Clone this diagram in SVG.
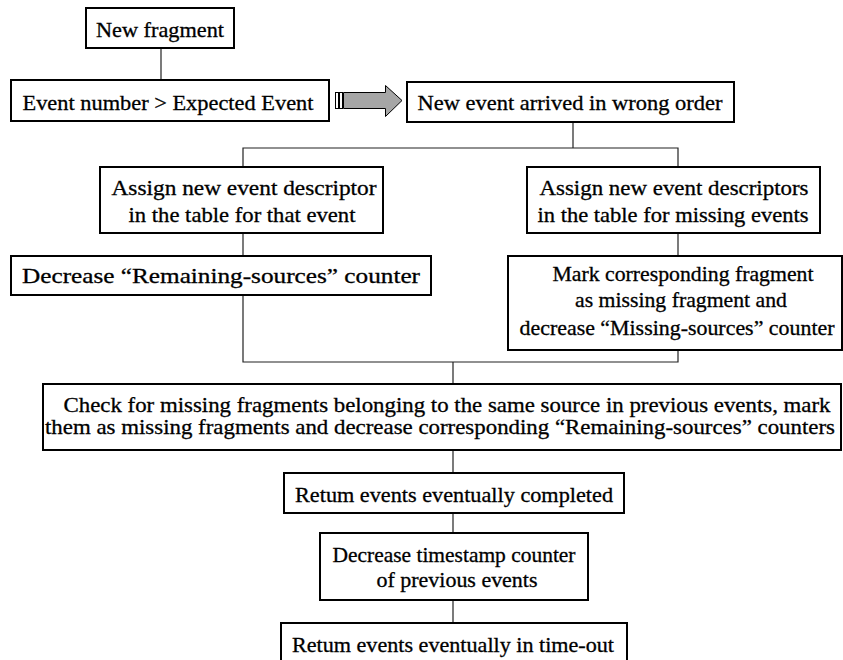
<svg xmlns="http://www.w3.org/2000/svg" width="843" height="660" viewBox="0 0 843 660">
  <style>
    .box { fill: #ffffff; stroke: #000000; stroke-width: 2; }
    .link { fill: none; stroke: #222222; stroke-width: 1.2; }
    .lbl { font-size: 21px; fill: #000000; stroke: #000000; stroke-width: 0.3; text-anchor: middle; }
  </style>

  <rect width="843" height="660" fill="#ffffff"/>

  <!-- connectors -->
  <g id="connectors">
    <line class="link" x1="161" y1="48" x2="161" y2="80"/>
    <line class="link" x1="573" y1="122" x2="573" y2="148"/>
    <polyline class="link" points="243,167 243,148 678,148 678,167"/>
    <line class="link" x1="243" y1="233" x2="243" y2="256"/>
    <line class="link" x1="678" y1="233" x2="678" y2="256"/>
    <polyline class="link" points="243,295 243,362 678,362 678,350"/>
    <line class="link" x1="453" y1="362" x2="453" y2="384"/>
    <line class="link" x1="453" y1="450" x2="453" y2="473"/>
    <line class="link" x1="453" y1="513" x2="453" y2="533"/>
    <line class="link" x1="453" y1="600" x2="453" y2="623"/>
    <!-- block arrow towards the out-of-order branch -->
    <g id="block-arrow" stroke="#000000" stroke-width="1">
      <rect x="335.5" y="92.5" width="3" height="16" fill="#ffffff"/>
      <rect x="339.5" y="92.5" width="3" height="16" fill="#ffffff"/>
      <polygon points="343.5,92.5 385.5,92.5 385.5,85.5 402,100.5 385.5,116.5 385.5,108.5 343.5,108.5" fill="#a6a6a6"/>
    </g>
  </g>

  <g font-family="Liberation Serif, serif">
  <g id="new-fragment">
    <rect class="box" x="86" y="8" width="148" height="40"/>
    <text class="lbl" x="160" y="37" textLength="128" lengthAdjust="spacingAndGlyphs">New fragment</text>
  </g>

  <g id="event-number-check">
    <rect class="box" x="11" y="80" width="318" height="41"/>
    <text class="lbl" x="168" y="110" textLength="291" lengthAdjust="spacingAndGlyphs">Event number &gt; Expected Event</text>
  </g>

  <g id="wrong-order">
    <rect class="box" x="407" y="82" width="327" height="40"/>
    <text class="lbl" x="570" y="110" textLength="305" lengthAdjust="spacingAndGlyphs">New event arrived in wrong order</text>
  </g>

  <g id="assign-descriptor">
    <rect class="box" x="100" y="167" width="283" height="66"/>
    <text class="lbl" x="244" y="195" textLength="265" lengthAdjust="spacingAndGlyphs">Assign new event descriptor</text>
    <text class="lbl" x="242" y="222" textLength="227" lengthAdjust="spacingAndGlyphs">in the table for that event</text>
  </g>

  <g id="assign-missing-descriptors">
    <rect class="box" x="527" y="167" width="293" height="66"/>
    <text class="lbl" x="674" y="195" textLength="269" lengthAdjust="spacingAndGlyphs">Assign new event descriptors</text>
    <text class="lbl" x="673" y="222" textLength="271" lengthAdjust="spacingAndGlyphs">in the table for missing events</text>
  </g>

  <g id="decrease-remaining">
    <rect class="box" x="11" y="256" width="420" height="39"/>
    <text class="lbl" x="221" y="283" textLength="398" lengthAdjust="spacingAndGlyphs">Decrease “Remaining-sources” counter</text>
  </g>

  <g id="mark-missing">
    <rect class="box" x="508" y="256" width="334" height="94"/>
    <text class="lbl" x="683" y="281" textLength="261" lengthAdjust="spacingAndGlyphs">Mark corresponding fragment</text>
    <text class="lbl" x="681" y="307" textLength="212" lengthAdjust="spacingAndGlyphs">as missing fragment and</text>
    <text class="lbl" x="677" y="335" textLength="315" lengthAdjust="spacingAndGlyphs">decrease “Missing-sources” counter</text>
  </g>

  <g id="check-previous">
    <rect class="box" x="43" y="384" width="798" height="66"/>
    <text class="lbl" x="447" y="412" textLength="767" lengthAdjust="spacingAndGlyphs">Check for missing fragments belonging to the same source in previous events, mark</text>
    <text class="lbl" x="440" y="434" textLength="790" lengthAdjust="spacingAndGlyphs">them as missing fragments and decrease corresponding “Remaining-sources” counters</text>
  </g>

  <g id="return-completed">
    <rect class="box" x="284" y="473" width="340" height="40"/>
    <text class="lbl" x="454" y="502" textLength="318" lengthAdjust="spacingAndGlyphs">Retum events eventually completed</text>
  </g>

  <g id="decrease-timestamp">
    <rect class="box" x="320" y="533" width="268" height="67"/>
    <text class="lbl" x="454" y="562" textLength="243" lengthAdjust="spacingAndGlyphs">Decrease timestamp counter</text>
    <text class="lbl" x="457" y="587" textLength="161" lengthAdjust="spacingAndGlyphs">of previous events</text>
  </g>

  <g id="return-timeout">
    <rect class="box" x="281" y="623" width="346" height="44"/>
    <text class="lbl" x="453" y="652" textLength="322" lengthAdjust="spacingAndGlyphs">Retum events eventually in time-out</text>
  </g>
  </g>
</svg>
